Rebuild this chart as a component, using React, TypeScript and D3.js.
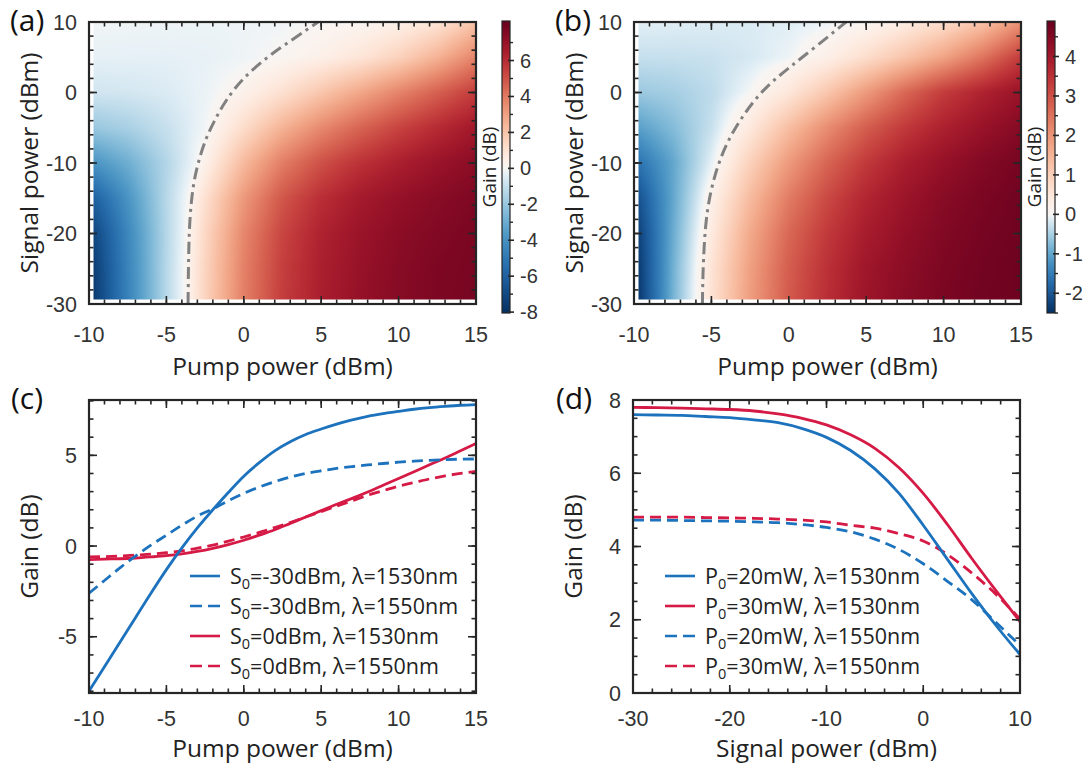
import React, { useMemo } from "react";
import * as d3 from "d3";

const W = 1086;
const H = 765;

// ---------- Heatmap grids ----------
const pumpGrid = [-10, -7.5, -5, -2.5, 0, 2.5, 5, 7.5, 10, 12.5, 15];
const signalGrid = [-30, -25, -20, -15, -10, -5, 0, 5, 10];

// Gain (dB), rows = signalGrid, cols = pumpGrid, lambda = 1530 nm
const gainA = [
  [-8.0, -4.6, -1.3, 1.5, 3.85, 5.5, 6.45, 7.05, 7.42, 7.67, 7.8],
  [-7.9, -4.55, -1.3, 1.47, 3.8, 5.45, 6.42, 7.0, 7.4, 7.65, 7.78],
  [-7.5, -4.4, -1.35, 1.35, 3.65, 5.3, 6.3, 6.9, 7.3, 7.55, 7.74],
  [-6.3, -3.9, -1.3, 1.05, 3.2, 4.85, 5.9, 6.6, 7.05, 7.38, 7.62],
  [-4.0, -2.9, -1.4, 0.35, 2.3, 3.9, 5.0, 5.8, 6.4, 6.9, 7.32],
  [-2.0, -1.6, -0.95, -0.1, 1.2, 2.5, 3.6, 4.5, 5.3, 6.0, 6.68],
  [-0.75, -0.68, -0.53, -0.22, 0.32, 1.07, 1.95, 2.82, 3.72, 4.6, 5.5],
  [-0.3, -0.32, -0.33, -0.28, -0.15, 0.08, 0.42, 0.88, 1.55, 2.5, 3.75],
  [-0.1, -0.12, -0.15, -0.17, -0.17, -0.12, 0.02, 0.15, 0.42, 0.92, 2.0],
];
// lambda = 1550 nm
const gainB = [
  [-2.6, -0.87, 0.6, 1.85, 2.85, 3.55, 4.1, 4.4, 4.62, 4.74, 4.8],
  [-2.55, -0.9, 0.55, 1.8, 2.8, 3.5, 4.05, 4.36, 4.58, 4.72, 4.8],
  [-2.45, -0.95, 0.4, 1.65, 2.65, 3.35, 3.9, 4.25, 4.52, 4.68, 4.78],
  [-2.2, -1.0, 0.2, 1.35, 2.35, 3.1, 3.7, 4.1, 4.42, 4.62, 4.75],
  [-1.7, -1.0, -0.1, 0.95, 1.9, 2.7, 3.35, 3.85, 4.2, 4.48, 4.67],
  [-1.1, -0.75, -0.3, 0.45, 1.3, 2.1, 2.8, 3.35, 3.8, 4.15, 4.45],
  [-0.6, -0.52, -0.37, 0.0, 0.5, 1.16, 1.9, 2.65, 3.3, 3.75, 4.15],
  [-0.3, -0.3, -0.28, -0.2, -0.05, 0.25, 0.7, 1.2, 1.75, 2.45, 3.3],
  [-0.12, -0.13, -0.15, -0.16, -0.14, -0.06, 0.08, 0.35, 0.7, 1.2, 2.02],
];

// zero-gain contours (pump dBm, signal dBm)
const contourAPump = [-3.6, -3.58, -3.53, -3.4, -3.22, -2.9, -2.45, -1.9, -1.2, -0.1, 1.6, 3.2, 4.8];
const contourASignal = [-30, -25, -19.5, -15.5, -12.5, -9.5, -6.5, -4.0, -1.2, 2.0, 5.2, 7.6, 10];
const contourBPump = [-5.58, -5.56, -5.52, -5.4, -5.15, -4.7, -4.0, -2.9, -1.6, 0.0, 1.75, 3.7];
const contourBSignal = [-30, -27, -24, -19, -15, -11, -7, -3.0, 0.6, 3.5, 6.5, 10];

const colorbarA = [-8.05, 8.2];
const colorbarB = [-2.5, 4.9];
const colorbarTicksA = [-8, -6, -4, -2, 0, 2, 4, 6];
const colorbarTicksB = [-2, -1, 0, 1, 2, 3, 4];
const rdbuStops = ["#67001f", "#b2182b", "#d6604d", "#f4a582", "#fddbc7", "#ffffff", "#d1e5f0", "#92c5de", "#4393c3", "#2166ac", "#053061"];

// ---------- Panel (c): gain vs pump ----------
const pumpC = [-10, -9, -8, -7, -6, -5, -4, -3, -2, -1, 0, 1, 2, 3, 4, 5, 6, 7, 8, 9, 10, 11, 12, 13, 14, 15];
const cS30_1530 = [-8.0, -6.65, -5.3, -3.95, -2.6, -1.3, -0.1, 1.0, 2.0, 2.95, 3.85, 4.6, 5.25, 5.75, 6.15, 6.45, 6.72, 6.95, 7.15, 7.3, 7.42, 7.54, 7.63, 7.7, 7.76, 7.8];
const cS30_1550 = [-2.6, -1.9, -1.2, -0.55, 0.05, 0.6, 1.15, 1.65, 2.05, 2.5, 2.9, 3.25, 3.55, 3.8, 4.0, 4.15, 4.28, 4.38, 4.47, 4.55, 4.62, 4.68, 4.72, 4.76, 4.79, 4.8];
const cS0_1530 = [-0.75, -0.72, -0.7, -0.66, -0.6, -0.53, -0.43, -0.3, -0.13, 0.08, 0.32, 0.6, 0.9, 1.25, 1.6, 1.95, 2.3, 2.63, 2.98, 3.35, 3.72, 4.1, 4.48, 4.85, 5.25, 5.65];
const cS0_1550 = [-0.6, -0.58, -0.55, -0.5, -0.45, -0.37, -0.27, -0.12, 0.05, 0.27, 0.5, 0.75, 1.02, 1.3, 1.6, 1.9, 2.2, 2.5, 2.8, 3.05, 3.3, 3.5, 3.7, 3.87, 4.0, 4.12];

// ---------- Panel (d): gain vs signal ----------
const signalD = [-30, -27.5, -25, -22.5, -20, -17.5, -15, -12.5, -10, -7.5, -5, -2.5, 0, 2.5, 5, 7.5, 10];
const dP20_1530 = [7.6, 7.59, 7.58, 7.55, 7.52, 7.46, 7.38, 7.22, 6.98, 6.62, 6.12, 5.45, 4.58, 3.65, 2.72, 1.85, 1.05];
const dP30_1530 = [7.8, 7.79, 7.78, 7.76, 7.74, 7.7, 7.62, 7.5, 7.32, 7.05, 6.68, 6.15, 5.45, 4.6, 3.68, 2.8, 1.95];
const dP20_1550 = [4.72, 4.72, 4.71, 4.7, 4.69, 4.67, 4.65, 4.6, 4.52, 4.4, 4.2, 3.92, 3.53, 3.05, 2.55, 1.93, 1.3];
const dP30_1550 = [4.8, 4.8, 4.8, 4.79, 4.78, 4.77, 4.75, 4.72, 4.67, 4.58, 4.5, 4.35, 4.15, 3.78, 3.28, 2.7, 2.02];

const BLUE = "#1c72bc";
const RED = "#d51a46";
const FT = "'Liberation Sans', Arial, sans-serif";
const FL = "'Open Sans', 'Noto Sans', sans-serif";
const AX = "#262626";

type Box = { x0: number; x1: number; y0: number; y1: number };
const boxA: Box = { x0: 89, x1: 476, y0: 22, y1: 304 };
const boxB: Box = { x0: 634, x1: 1021, y0: 22, y1: 304 };
const boxC: Box = { x0: 89, x1: 476, y0: 400, y1: 693 };
const boxD: Box = { x0: 633, x1: 1020, y0: 400, y1: 693 };

const interp = d3.interpolateRgbBasis(rdbuStops);
function makeColor(dom: number[]) {
  const lo = dom[0], hi = dom[1];
  return (v: number) => {
    if (v >= 0) {
      const t = Math.pow(Math.min(1, v / hi), 0.9);
      return interp(0.5 - 0.5 * t);
    }
    const t = Math.pow(Math.min(1, v / lo), 0.7);
    return interp(0.5 + 0.5 * t);
  };
}

function bilinear(grid: number[][], p: number, s: number) {
  const cl = (v: number, a: number[]) => Math.max(a[0], Math.min(a[a.length - 1], v));
  p = cl(p, pumpGrid);
  s = cl(s, signalGrid);
  let i = d3.bisectRight(pumpGrid, p) - 1;
  i = Math.max(0, Math.min(pumpGrid.length - 2, i));
  let j = d3.bisectRight(signalGrid, s) - 1;
  j = Math.max(0, Math.min(signalGrid.length - 2, j));
  const tx = (p - pumpGrid[i]) / (pumpGrid[i + 1] - pumpGrid[i]);
  const ty = (s - signalGrid[j]) / (signalGrid[j + 1] - signalGrid[j]);
  const a = grid[j][i], b = grid[j][i + 1], c = grid[j + 1][i], d = grid[j + 1][i + 1];
  return (a * (1 - tx) + b * tx) * (1 - ty) + (c * (1 - tx) + d * tx) * ty;
}

function makeHeat(
  grid: number[][],
  color: (v: number) => string,
  xs: d3.ScaleLinear<number, number>,
  ys: d3.ScaleLinear<number, number>,
  ix0: number, ix1: number, iy0: number, iy1: number
) {
  if (typeof document === "undefined") return "";
  const w = Math.round(ix1 - ix0), h = Math.round(iy1 - iy0);
  const c = document.createElement("canvas");
  c.width = w; c.height = h;
  const ctx = c.getContext("2d");
  if (!ctx) return "";
  const img = ctx.createImageData(w, h);
  for (let jj = 0; jj < h; jj++) {
    const s = ys.invert(iy0 + jj + 0.5);
    for (let ii = 0; ii < w; ii++) {
      const p = xs.invert(ix0 + ii + 0.5);
      const v = bilinear(grid, p, s);
      const col = d3.rgb(color(v));
      const k = (jj * w + ii) * 4;
      img.data[k] = col.r; img.data[k + 1] = col.g; img.data[k + 2] = col.b; img.data[k + 3] = 255;
    }
  }
  ctx.putImageData(img, 0, 0);
  return c.toDataURL();
}

function Ticks({ box, xs, ys, xMaj, xMin, yMaj, yMin }: any) {
  const L = 8, l = 4.5;
  const lines: any[] = [];
  const add = (x1: number, y1: number, x2: number, y2: number, k: string) =>
    lines.push(<line key={k} x1={x1} y1={y1} x2={x2} y2={y2} stroke={AX} strokeWidth={1.6} />);
  xMin.forEach((v: number, i: number) => { const x = xs(v); add(x, box.y1, x, box.y1 - l, "xb" + i); add(x, box.y0, x, box.y0 + l, "xt" + i); });
  xMaj.forEach((v: number, i: number) => { const x = xs(v); add(x, box.y1, x, box.y1 - L, "Xb" + i); add(x, box.y0, x, box.y0 + L, "Xt" + i); });
  yMin.forEach((v: number, i: number) => { const y = ys(v); add(box.x0, y, box.x0 + l, y, "yl" + i); add(box.x1, y, box.x1 - l, y, "yr" + i); });
  yMaj.forEach((v: number, i: number) => { const y = ys(v); add(box.x0, y, box.x0 + L, y, "Yl" + i); add(box.x1, y, box.x1 - L, y, "Yr" + i); });
  return (
    <g>
      {lines}
      <rect x={box.x0} y={box.y0} width={box.x1 - box.x0} height={box.y1 - box.y0} fill="none" stroke={AX} strokeWidth={2.2} />
    </g>
  );
}

function AxisLabels({ box, xs, ys, xMaj, yMaj, xTitle, yTitle, tag, tagX, tickDy, titleDy }: any) {
  return (
    <g>
      {xMaj.map((v: number) => (
        <text key={"xl" + v} x={xs(v)} y={box.y1 + tickDy} textAnchor="middle" fontFamily={FT} fontSize={21.5} fill="#333">{v}</text>
      ))}
      {yMaj.map((v: number) => (
        <text key={"yl" + v} x={box.x0 - 12} y={ys(v) + 7.5} textAnchor="end" fontFamily={FT} fontSize={21.5} fill="#333">{v}</text>
      ))}
      <text x={(box.x0 + box.x1) / 2} y={box.y1 + titleDy} textAnchor="middle" fontFamily={FL} fontSize={24.5} fill="#222">{xTitle}</text>
      <text transform={`translate(${box.x0 - 51},${(box.y0 + box.y1) / 2}) rotate(-90)`} textAnchor="middle" fontFamily={FL} fontSize={24.5} fill="#222">{yTitle}</text>
      <text x={tagX} y={box.y0 + 9} fontFamily={FL} fontSize={30} fill="#111">{tag}</text>
    </g>
  );
}

function HeatPanel({ box, grid, cdom, cticks, cminor, cPump, cSig, tag, tagX, id }: any) {
  const xs = d3.scaleLinear().domain([-10, 15]).range([box.x0, box.x1]);
  const ys = d3.scaleLinear().domain([-30, 10]).range([box.y1, box.y0]);
  const color = makeColor(cdom);
  const ix0 = box.x0 + 4.5, ix1 = box.x1, iy0 = box.y0, iy1 = box.y1 - 4.5;
  const href = useMemo(() => makeHeat(grid, color, xs, ys, ix0, ix1, iy0, iy1), []);
  const cb = { x0: box.x1 + 26, x1: box.x1 + 34, y0: 21, y1: 313 };
  const cs = d3.scaleLinear().domain(cdom).range([cb.y1, cb.y0]);
  const stops = d3.range(0, 81).map((k) => {
    const v = cdom[0] + (k / 80) * (cdom[1] - cdom[0]);
    return <stop key={k} offset={`${(k / 80) * 100}%`} stopColor={color(v)} />;
  });
  const line = d3.line<number>().x((d, i) => xs(cPump[i])).y((d, i) => ys(cSig[i])).curve(d3.curveBasis);
  return (
    <g>
      <defs>
        <linearGradient id={id} x1="0" y1="1" x2="0" y2="0">{stops}</linearGradient>
        <clipPath id={id + "clip"}><rect x={box.x0} y={box.y0} width={box.x1 - box.x0} height={box.y1 - box.y0} /></clipPath>
      </defs>
      {href && <image href={href} x={ix0} y={iy0} width={ix1 - ix0} height={iy1 - iy0} preserveAspectRatio="none" />}
      <path d={line(cPump) || ""} fill="none" stroke="#808080" strokeWidth={3} strokeDasharray="12,5,3,5" clipPath={`url(#${id}clip)`} />
      <Ticks box={box} xs={xs} ys={ys} xMaj={d3.range(-10, 16, 5)} xMin={d3.range(-10, 16, 1)} yMaj={d3.range(-30, 11, 10)} yMin={d3.range(-30, 11, 2)} />
      <AxisLabels box={box} xs={xs} ys={ys} xMaj={d3.range(-10, 16, 5)} yMaj={d3.range(-30, 11, 10)} xTitle="Pump power (dBm)" yTitle="Signal power (dBm)" tag={tag} tagX={tagX} tickDy={38} titleDy={71} />
      <rect x={cb.x0} y={cb.y0} width={cb.x1 - cb.x0} height={cb.y1 - cb.y0} fill={`url(#${id})`} stroke={AX} strokeWidth={1.2} />
      {cminor.map((v: number) => (
        <line key={"cm" + v} x1={cb.x1} x2={cb.x1 + 3} y1={cs(v)} y2={cs(v)} stroke={AX} strokeWidth={1.4} />
      ))}
      {cticks.map((v: number) => (
        <g key={"ct" + v}>
          <line x1={cb.x1 - 2} x2={cb.x1 + 4} y1={cs(v)} y2={cs(v)} stroke={AX} strokeWidth={1.6} />
          <text x={cb.x1 + 10} y={cs(v) + 7} fontFamily={FT} fontSize={20} fill="#333">{v}</text>
        </g>
      ))}
      <text transform={`translate(${cb.x0 - 6},${(box.y0 + box.y1) / 2 + 4}) rotate(-90)`} textAnchor="middle" fontFamily={FL} fontSize={19} fill="#222">Gain (dB)</text>
    </g>
  );
}

function Legend({ x, y, items }: any) {
  return (
    <g>
      {items.map((it: any, i: number) => {
        const cy = y + i * 30;
        return (
          <g key={i}>
            <line x1={x} x2={x + 30} y1={cy} y2={cy} stroke={it.color} strokeWidth={2.6} strokeDasharray={it.dash ? "12,6" : undefined} />
            <text x={x + 40} y={cy + 8} fontFamily={FL} fontSize={21.5} fill="#222">
              {it.pre}
              <tspan dy={5} fontSize={14.5}>0</tspan>
              <tspan dy={-5}>{it.post}</tspan>
            </text>
          </g>
        );
      })}
    </g>
  );
}

function PanelC() {
  const box = boxC;
  const xs = d3.scaleLinear().domain([-10, 15]).range([box.x0, box.x1]);
  const ys = d3.scaleLinear().domain([-8.1, 8.05]).range([box.y1, box.y0]);
  const mk = (vals: number[]) => d3.line<number>().x((d, i) => xs(pumpC[i])).y((d) => ys(d)).curve(d3.curveMonotoneX)(vals) || "";
  const series = [
    { v: cS0_1530, c: RED, dash: false },
    { v: cS0_1550, c: RED, dash: true },
    { v: cS30_1550, c: BLUE, dash: true },
    { v: cS30_1530, c: BLUE, dash: false },
  ];
  return (
    <g>
      <defs><clipPath id="clipc"><rect x={box.x0} y={box.y0} width={box.x1 - box.x0} height={box.y1 - box.y0} /></clipPath></defs>
      <g clipPath="url(#clipc)">
        {series.map((s, i) => (
          <path key={i} d={mk(s.v)} fill="none" stroke={s.c} strokeWidth={2.8} strokeDasharray={s.dash ? "11,6" : undefined} />
        ))}
      </g>
      <Ticks box={box} xs={xs} ys={ys} xMaj={d3.range(-10, 16, 5)} xMin={d3.range(-10, 16, 1)} yMaj={[-5, 0, 5]} yMin={d3.range(-8, 9, 1)} />
      <AxisLabels box={box} xs={xs} ys={ys} xMaj={d3.range(-10, 16, 5)} yMaj={[-5, 0, 5]} xTitle="Pump power (dBm)" yTitle="Gain (dB)" tag="(c)" tagX={11} tickDy={33} titleDy={64} />
      <Legend x={190} y={576} items={[
        { color: BLUE, dash: false, pre: "S", post: "=-30dBm, λ=1530nm" },
        { color: BLUE, dash: true, pre: "S", post: "=-30dBm, λ=1550nm" },
        { color: RED, dash: false, pre: "S", post: "=0dBm, λ=1530nm" },
        { color: RED, dash: true, pre: "S", post: "=0dBm, λ=1550nm" },
      ]} />
    </g>
  );
}

function PanelD() {
  const box = boxD;
  const xs = d3.scaleLinear().domain([-30, 10]).range([box.x0, box.x1]);
  const ys = d3.scaleLinear().domain([0, 8]).range([box.y1, box.y0]);
  const mk = (vals: number[]) => d3.line<number>().x((d, i) => xs(signalD[i])).y((d) => ys(d)).curve(d3.curveMonotoneX)(vals) || "";
  const series = [
    { v: dP20_1550, c: BLUE, dash: true },
    { v: dP30_1550, c: RED, dash: true },
    { v: dP20_1530, c: BLUE, dash: false },
    { v: dP30_1530, c: RED, dash: false },
  ];
  return (
    <g>
      <defs><clipPath id="clipd"><rect x={box.x0} y={box.y0} width={box.x1 - box.x0} height={box.y1 - box.y0} /></clipPath></defs>
      <g clipPath="url(#clipd)">
        {series.map((s, i) => (
          <path key={i} d={mk(s.v)} fill="none" stroke={s.c} strokeWidth={2.8} strokeDasharray={s.dash ? "11,6" : undefined} />
        ))}
      </g>
      <Ticks box={box} xs={xs} ys={ys} xMaj={d3.range(-30, 11, 10)} xMin={d3.range(-30, 11, 2)} yMaj={d3.range(0, 9, 2)} yMin={d3.range(0, 8.01, 0.5)} />
      <AxisLabels box={box} xs={xs} ys={ys} xMaj={d3.range(-30, 11, 10)} yMaj={d3.range(0, 9, 2)} xTitle="Signal power (dBm)" yTitle="Gain (dB)" tag="(d)" tagX={556} tickDy={33} titleDy={64} />
      <Legend x={665} y={576} items={[
        { color: BLUE, dash: false, pre: "P", post: "=20mW, λ=1530nm" },
        { color: RED, dash: false, pre: "P", post: "=30mW, λ=1530nm" },
        { color: BLUE, dash: true, pre: "P", post: "=20mW, λ=1550nm" },
        { color: RED, dash: true, pre: "P", post: "=30mW, λ=1550nm" },
      ]} />
    </g>
  );
}

export default function App() {
  return (
    <svg width={W} height={H} viewBox={`0 0 ${W} ${H}`} style={{ position: "absolute", left: 0, top: 0, background: "#fff" }}>
      <rect width={W} height={H} fill="#fff" />
      <HeatPanel box={boxA} grid={gainA} cdom={colorbarA} cticks={colorbarTicksA} cminor={[-7, -5, -3, -1, 1, 3, 5, 7]} cPump={contourAPump} cSig={contourASignal} tag="(a)" tagX={10} id="ga" />
      <HeatPanel box={boxB} grid={gainB} cdom={colorbarB} cticks={colorbarTicksB} cminor={[-2.5, -1.5, -0.5, 0.5, 1.5, 2.5, 3.5, 4.5]} cPump={contourBPump} cSig={contourBSignal} tag="(b)" tagX={555} id="gb" />
      <PanelC />
      <PanelD />
    </svg>
  );
}
